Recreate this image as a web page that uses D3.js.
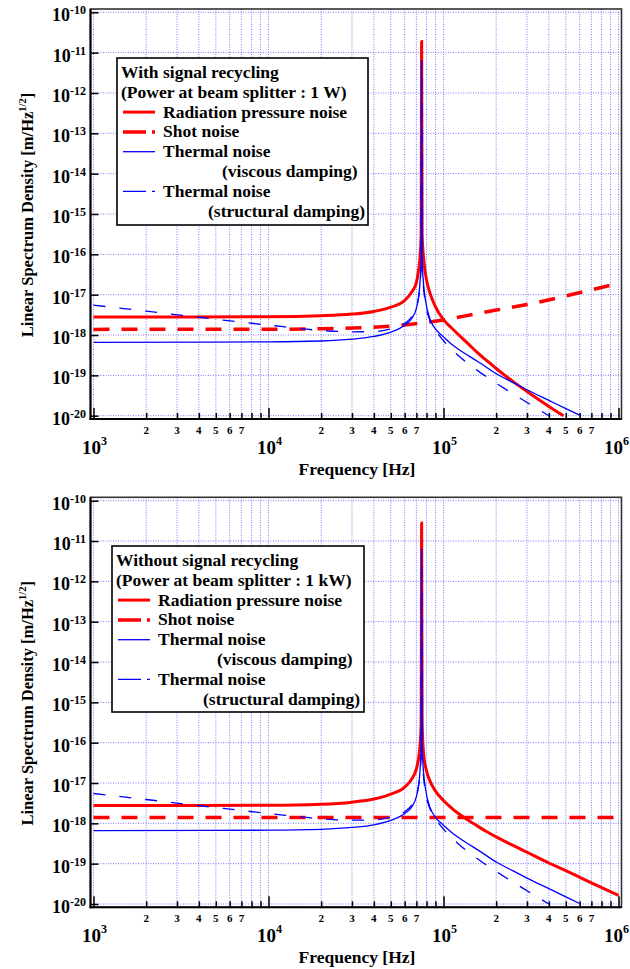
<!DOCTYPE html>
<html>
<head>
<meta charset="utf-8">
<script src="https://cdn.jsdelivr.net/npm/d3@7"></script>
<style>
  body { margin: 0; background: #fff; }
  svg { font-family: "Liberation Serif", "Times New Roman", serif; font-weight: bold; }
</style>
</head>
<body>
<div id="chart"></div>
<script>
// axis ticks
const freqMajor = [1e3, 1e4, 1e5, 1e6];
const freqMinorLabels = [2, 3, 4, 5, 6, 7];
const densityExponents = [-10, -11, -12, -13, -14, -15, -16, -17, -18, -19, -20];

// [frequency Hz, linear spectrum density m/Hz^1/2]
const radPressSR = [
    [1e3, 2.8e-18], [1e4, 2.83e-18], [2e4, 3.0e-18], [3e4, 3.3e-18], [4e4, 3.85e-18],
    [5e4, 4.9e-18], [6e4, 7.2e-18], [6.6e4, 1.18e-17], [7e4, 2.0e-17], [7.2e4, 4.0e-17],
    [7.35e4, 9e-17], [7.45e4, 3e-16], [7.5e4, 1.9e-11], [7.55e4, 3e-16], [7.75e4, 6.0e-17],
    [8e4, 2.3e-17], [8.4e4, 1.05e-17], [9e4, 5.0e-18], [1e5, 2.4e-18], [1.12e5, 1.45e-18],
    [1.26e5, 8.9e-19], [1.41e5, 5.6e-19], [1.58e5, 3.5e-19], [1.78e5, 2.26e-19], [2e5, 1.48e-19],
    [2.5e5, 7.0e-20], [3.16e5, 3.4e-20], [4e5, 1.7e-20], [4.85e5, 1.0e-20]
];
const shotSR = [
    [1e3, 1.38e-18], [1e4, 1.39e-18], [2e4, 1.43e-18], [3e4, 1.49e-18], [5e4, 1.66e-18],
    [7.5e4, 1.99e-18], [1e5, 2.36e-18], [1.5e5, 3.3e-18], [2e5, 4.15e-18], [3e5, 5.7e-18],
    [5e5, 9.3e-18], [7e5, 1.32e-17], [1e6, 1.9e-17]
];
const radPressNoSR = [
    [1e3, 2.75e-18], [1e4, 2.8e-18], [2e4, 2.97e-18], [3e4, 3.35e-18], [4e4, 4.0e-18],
    [5e4, 5.3e-18], [6e4, 7.9e-18], [6.6e4, 1.28e-17], [7e4, 2.25e-17], [7.2e4, 4.0e-17],
    [7.35e4, 9e-17], [7.45e4, 3e-16], [7.5e4, 2.8e-11], [7.55e4, 3e-16], [7.7e4, 5.2e-17],
    [8e4, 2.0e-17], [8.4e4, 1.08e-17], [9e4, 6.3e-18], [1e5, 3.7e-18], [1.1e5, 2.5e-18],
    [1.2e5, 1.83e-18], [1.35e5, 1.28e-18], [1.5e5, 9.6e-19], [1.75e5, 6.35e-19], [2e5, 4.6e-19],
    [2.5e5, 2.83e-19], [3e5, 1.92e-19], [4e5, 1.04e-19], [5e5, 6.7e-20], [7e5, 3.33e-20],
    [1e6, 1.63e-20]
];
const shotNoSR = [[1e3, 1.4e-18], [1e6, 1.4e-18]];
const thermalViscous = [
    [1e3, 6.6e-19], [1e4, 6.75e-19], [2e4, 7.1e-19], [3e4, 7.9e-19], [4e4, 9.2e-19],
    [5e4, 1.18e-18], [6e4, 1.75e-18], [6.6e4, 2.6e-18], [7e4, 4.6e-18], [7.2e4, 8.5e-18],
    [7.35e4, 2.2e-17], [7.45e4, 8e-17], [7.5e4, 6.3e-12], [7.55e4, 8e-17], [7.65e4, 2.5e-17],
    [7.9e4, 7.0e-18], [8.4e4, 2.4e-18], [9e4, 1.4e-18], [1e5, 9.0e-19], [1.1e5, 6.2e-19],
    [1.2e5, 4.65e-19], [1.4e5, 3.0e-19], [1.6e5, 2.08e-19], [2e5, 1.1e-19], [2.5e5, 6.6e-20],
    [3e5, 4.4e-20], [4e5, 2.4e-20], [5e5, 1.5e-20], [6e5, 1.03e-20]
];
const thermalStructural = [
    [1e3, 5.5e-18], [2e3, 3.9e-18], [5e3, 2.46e-18], [1e4, 1.76e-18], [2e4, 1.3e-18],
    [3e4, 1.2e-18], [4e4, 1.22e-18], [5e4, 1.42e-18], [6e4, 1.95e-18], [6.6e4, 2.9e-18],
    [7e4, 5.0e-18], [7.2e4, 8.5e-18], [7.35e4, 1.8e-17], [7.45e4, 6e-17], [7.5e4, 6.3e-12],
    [7.55e4, 6e-17], [7.65e4, 2.0e-17], [7.9e4, 6.0e-18], [8.4e4, 2.2e-18], [9e4, 1.3e-18],
    [1e5, 7.2e-19], [1.1e5, 4.6e-19], [1.2e5, 3.25e-19], [1.3e5, 2.42e-19], [1.5e5, 1.5e-19],
    [1.75e5, 9.4e-20], [2e5, 6.4e-20], [2.5e5, 3.46e-20], [3e5, 2.13e-20], [3.5e5, 1.42e-20],
    [4e5, 1.0e-20]
];

const titlesSR = ['With signal recycling', '(Power at beam splitter : 1 W)'];
const titlesNoSR = ['Without signal recycling', '(Power at beam splitter : 1 kW)'];
const legendLabels = ['Radiation pressure noise', 'Shot noise', 'Thermal noise', 'Thermal noise'];
const legendSubLabels = [null, null, '(viscous damping)', '(structural damping)'];

const styles = [
    { color: '#ff0000', width: 3, dash: null },
    { color: '#ff0000', width: 3.5, dash: '16,12' },
    { color: '#0000ff', width: 1.3, dash: null },
    { color: '#0000ff', width: 1.3, dash: '12,14' }
];

const frameLeft = 90.5, frameRight = 621.5;
const x = d3.scaleLog().domain([1e3, 1e6]).range([93.5, 618.5]);

const panels = [
    { frameTop: 9, frameBottom: 419, yRange: [415.7, 12.3], box: [117, 58, 251, 167],
      titles: titlesSR, series: [radPressSR, shotSR, thermalViscous, thermalStructural] },
    { frameTop: 497.3, frameBottom: 907.3, yRange: [904, 500.7], box: [112, 546, 252, 166],
      titles: titlesNoSR, series: [radPressNoSR, shotNoSR, thermalViscous, thermalStructural] }
];

const leadDigit = f => Math.round(f / Math.pow(10, Math.floor(Math.log10(f) + 1e-9)));

const svg = d3.select('#chart').append('svg')
    .attr('width', 630)
    .attr('height', 969);

panels.forEach((p, i) => {
    const y = d3.scaleLog().domain([1e-20, 1e-10]).range(p.yRange);
    const g = svg.append('g');
    const h = p.frameBottom - p.frameTop;

    g.append('clipPath').attr('id', 'clip' + i)
      .append('rect')
        .attr('x', frameLeft).attr('y', p.frameTop)
        .attr('width', frameRight - frameLeft).attr('height', h);

    // grid
    g.append('g').selectAll('line')
        .data(x.ticks())
      .join('line')
        .attr('x1', d => x(d)).attr('x2', d => x(d))
        .attr('y1', p.frameTop).attr('y2', p.frameBottom)
        .attr('stroke', '#6b6bff').attr('stroke-width', 0.9)
        .attr('stroke-dasharray', '1,1.5');
    g.append('g').selectAll('line')
        .data(densityExponents)
      .join('line')
        .attr('x1', frameLeft).attr('x2', frameRight)
        .attr('y1', d => y(Math.pow(10, d))).attr('y2', d => y(Math.pow(10, d)))
        .attr('stroke', '#6b6bff').attr('stroke-width', 0.9)
        .attr('stroke-dasharray', '1,1.5');

    // ticks
    const minor = x.ticks().filter(d => freqMajor.indexOf(d) < 0);
    const axisStyle = sel => {
        sel.select('.domain').remove();
        sel.selectAll('line').attr('stroke', '#000').attr('stroke-width', 1.5);
    };
    g.append('g').attr('transform', `translate(0,${p.frameBottom})`)
        .call(d3.axisBottom(x).tickValues(freqMajor).tickSize(-11).tickFormat(''))
        .call(axisStyle);
    g.append('g').attr('transform', `translate(0,${p.frameBottom})`)
        .call(d3.axisBottom(x).tickValues(minor).tickSize(-6).tickFormat(''))
        .call(axisStyle);
    g.append('g').attr('transform', `translate(${frameLeft},0)`)
        .call(d3.axisLeft(y).tickValues(densityExponents.map(e => Math.pow(10, e))).tickSize(-8).tickFormat(''))
        .call(axisStyle);

    // frame
    g.append('rect')
        .attr('x', frameLeft).attr('y', p.frameTop)
        .attr('width', frameRight - frameLeft).attr('height', h)
        .attr('fill', 'none').attr('stroke', '#333').attr('stroke-width', 1.6);
    g.append('line').attr('x1', frameLeft).attr('x2', frameLeft)
        .attr('y1', p.frameTop).attr('y2', p.frameBottom + 1)
        .attr('stroke', '#000').attr('stroke-width', 2);
    g.append('line').attr('x1', frameLeft - 1).attr('x2', frameRight)
        .attr('y1', p.frameBottom).attr('y2', p.frameBottom)
        .attr('stroke', '#000').attr('stroke-width', 2);

    // curves
    const line = d3.line()
        .x(d => x(d[0]))
        .y(d => y(d[1]))
        .curve(d3.curveMonotoneX);
    p.series.forEach((s, k) => {
        g.append('path')
            .datum(s)
            .attr('clip-path', `url(#clip${i})`)
            .attr('fill', 'none')
            .attr('stroke', styles[k].color)
            .attr('stroke-width', styles[k].width)
            .attr('stroke-dasharray', styles[k].dash)
            .attr('d', line);
    });

    // y tick labels
    densityExponents.forEach(e => {
        const t = g.append('text')
            .attr('x', 86)
            .attr('y', y(Math.pow(10, e)) + 9)
            .attr('text-anchor', 'end');
        t.append('tspan').attr('font-size', 18).text('10');
        t.append('tspan').attr('font-size', 12).attr('dy', -7).text(String(e));
    });

    // x tick labels
    freqMajor.forEach((f, k) => {
        const last = k === freqMajor.length - 1;
        const t = g.append('text')
            .attr('x', last ? 629 : x(f) + 1)
            .attr('y', p.frameBottom + 34.5)
            .attr('text-anchor', last ? 'end' : 'middle');
        t.append('tspan').attr('font-size', 19).text('10');
        t.append('tspan').attr('font-size', 12).attr('dy', -9).text(String(Math.round(Math.log10(f))));
    });
    minor.filter(d => freqMinorLabels.indexOf(leadDigit(d)) >= 0)
        .forEach(f => {
            g.append('text')
                .attr('x', x(f))
                .attr('y', p.frameBottom + 14.5)
                .attr('text-anchor', 'middle')
                .attr('font-size', 11)
                .text(String(leadDigit(f)));
        });

    // axis titles
    g.append('text')
        .attr('x', 357)
        .attr('y', p.frameBottom + 56)
        .attr('text-anchor', 'middle')
        .attr('font-size', 17.5)
        .text('Frequency [Hz]');
    const yl = g.append('text')
        .attr('transform', `translate(32.5,${(p.frameTop + p.frameBottom) / 2 + 1}) rotate(-90)`)
        .attr('text-anchor', 'middle')
        .attr('font-size', 16.5);
    yl.append('tspan').text('Linear Spectrum Density [m/Hz');
    yl.append('tspan').attr('font-size', 10.5).attr('dy', -7).text('1/2');
    yl.append('tspan').attr('dy', 7).text(']');

    // legend
    const [bx, by, bw, bh] = p.box;
    const lg = g.append('g');
    lg.append('rect')
        .attr('x', bx).attr('y', by).attr('width', bw).attr('height', bh)
        .attr('fill', '#fff').attr('stroke', '#000').attr('stroke-width', 1.6);
    p.titles.forEach((t, k) => {
        lg.append('text')
            .attr('x', bx + 4).attr('y', by + 20 + k * 19.8)
            .attr('font-size', 17.5)
            .text(t);
    });
    let row = 2;
    legendLabels.forEach((lab, k) => {
        const base = by + 20 + row * 19.8;
        lg.append('line')
            .attr('x1', bx + 6).attr('x2', bx + 38)
            .attr('y1', base - 5.5).attr('y2', base - 5.5)
            .attr('stroke', styles[k].color)
            .attr('stroke-width', styles[k].width)
            .attr('stroke-dasharray', styles[k].dash ? '23,6' : null);
        lg.append('text')
            .attr('x', bx + 46).attr('y', base)
            .attr('font-size', 17.5)
            .text(lab);
        row++;
        if (legendSubLabels[k]) {
            lg.append('text')
                .attr('x', bx + (k === 2 ? 105 : 91)).attr('y', by + 20 + row * 19.8)
                .attr('font-size', 17.5)
                .text(legendSubLabels[k]);
            row++;
        }
    });
});
</script>
</body>
</html>
